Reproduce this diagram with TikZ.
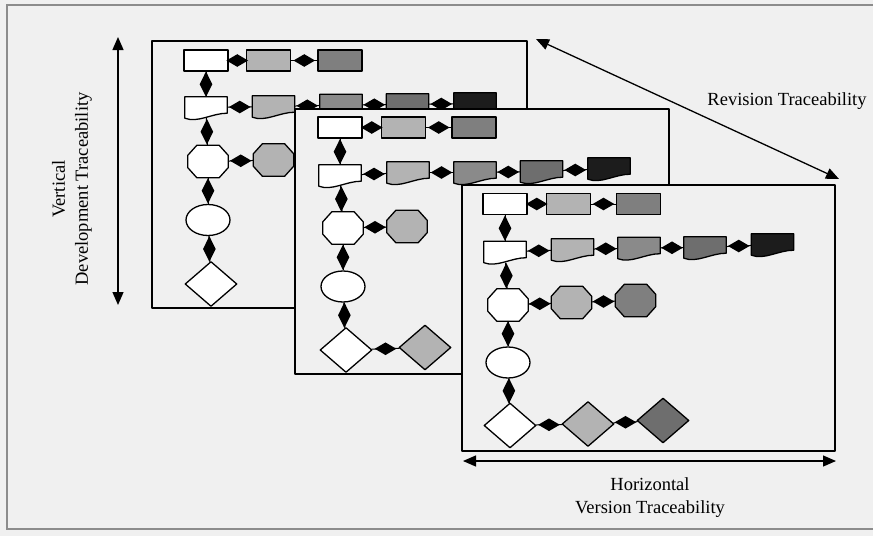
\documentclass[tikz,border=0pt]{standalone}
\usepackage{fontspec}
\setmainfont{Liberation Serif}
\usetikzlibrary{shapes.geometric,arrows.meta,calc}
\definecolor{bg}{HTML}{F0F0F0}
\definecolor{cA}{HTML}{B3B3B3}
\definecolor{cB}{HTML}{8A8A8A}
\definecolor{cC}{HTML}{6E6E6E}
\definecolor{cD}{HTML}{1C1C1C}
\definecolor{cR}{HTML}{7F7F7F}
\definecolor{frameline}{HTML}{8C8C8C}

% document symbol: rectangle with a wavy lower edge
% #1 name, #2 centre x, #3 top y, #4 fill colour
\newcommand\tracedoc[4]{%
  \node[docbox] (#1) at (#2,#3+10.5) {};
  \draw[lw, fill=#4] (#1.north west) -- (#1.north east)
    -- ($(#1.south east)+(0,-5)$)
    .. controls ($(#1.south)+(6,-5)$) and ($(#1.south)+(-8,5)$) .. (#1.south west)
    -- cycle;
}
% octagon symbol with cut corners
% #1 name, #2 centre x, #3 centre y, #4 fill colour
\newcommand\traceoct[4]{%
  \node[octbox] (#1) at (#2,#3) {};
  \draw[lw, fill=#4] ($(#1.north west)+(9,0)$) -- ($(#1.north east)+(-9,0)$)
    -- ($(#1.north east)+(0,10)$) -- ($(#1.south east)+(0,-10)$)
    -- ($(#1.south east)+(-9,0)$) -- ($(#1.south west)+(9,0)$)
    -- ($(#1.south west)+(0,-10)$) -- ($(#1.north west)+(0,10)$) -- cycle;
}

\begin{document}
\begin{tikzpicture}[x=1pt,y=-1pt,
  lw/.style={line width=1.3pt, draw=black, line join=round},
  panel/.style={lw, fill=bg},
  box/.style={rectangle, lw, inner sep=0pt, minimum width=44pt, minimum height=21pt},
  docbox/.style={rectangle, inner sep=0pt, minimum width=42pt, minimum height=21pt},
  octbox/.style={rectangle, inner sep=0pt, minimum width=40pt, minimum height=32pt},
  oval/.style={ellipse, lw, inner sep=0pt, minimum width=44pt, minimum height=31pt},
  rhomb/.style={diamond, lw, inner sep=0pt, minimum width=52pt, minimum height=45pt},
  link/.style={draw=black, line width=1pt},
  hd/.style={diamond, fill=black, inner sep=0pt, minimum width=22pt, minimum height=13pt},
  vd/.style={diamond, fill=black, inner sep=0pt, minimum width=13pt, minimum height=26pt},
  trace/.style={line width=1.3pt, {Triangle[length=13pt,width=11pt]}-{Triangle[length=13pt,width=11pt]}},
  caption/.style={font=\fontsize{18.5}{23}\selectfont, align=center, inner sep=0pt}
]
\fill[bg] (0,0) rectangle (873,536);
\useasboundingbox (0,0) rectangle (873,536);
\draw[frameline, line width=1.3pt] (7,5) rectangle (890,529);

% ---------- first panel ----------
\draw[panel] (152,41) rectangle (527,308);
\node[box, fill=white] (p1a1) at (206,60.5) {};
\node[box, fill=cA] (p1a2) at (268.5,60.5) {};
\node[box, fill=cR] (p1a3) at (340,60.5) {};
\tracedoc{p1b1}{206}{97}{white}
\tracedoc{p1b2}{273.5}{96}{cA}
\tracedoc{p1b3}{341}{94.5}{cB}
\tracedoc{p1b4}{407.5}{94}{cC}
\tracedoc{p1b5}{475}{93}{cD}
\traceoct{p1o1}{208}{161.5}{white}
\traceoct{p1o2}{273.5}{160}{cA}
\node[oval, fill=white] (p1e1) at (208,220) {};
\node[rhomb, fill=white] (p1k1) at (211,284) {};
\draw[link] (p1a1) -- node[hd]{} (p1a2);
\draw[link] (p1a2) -- node[hd]{} (p1a3);
\draw[link] (p1b1) -- node[hd]{} (p1b2);
\draw[link] (p1b2) -- node[hd]{} (p1b3);
\draw[link] (p1b3) -- node[hd]{} (p1b4);
\draw[link] (p1b4) -- node[hd]{} (p1b5);
\draw[link] (p1o1) -- node[hd]{} (p1o2);
\draw[link] (p1a1) -- node[vd]{} (p1b1);
\draw[link] (p1b1) -- node[vd]{} (p1o1);
\draw[link] (p1o1) -- node[vd]{} (p1e1);
\draw[link] (p1e1) -- node[vd]{} (p1k1);

% ---------- second panel ----------
\draw[panel] (295,109) rectangle (669,374);
\node[box, fill=white] (p2a1) at (340,127.5) {};
\node[box, fill=cA] (p2a2) at (403.5,127.5) {};
\node[box, fill=cR] (p2a3) at (474,127.5) {};
\tracedoc{p2b1}{340}{165}{white}
\tracedoc{p2b2}{408}{162}{cA}
\tracedoc{p2b3}{475}{162}{cB}
\tracedoc{p2b4}{541.5}{161}{cC}
\tracedoc{p2b5}{609}{158}{cD}
\traceoct{p2o1}{343}{228}{white}
\traceoct{p2o2}{407}{226.5}{cA}
\node[oval, fill=white] (p2e1) at (343,286.5) {};
\node[rhomb, fill=white] (p2k1) at (346,350) {};
\node[rhomb, fill=cA] (p2k2) at (425,347.5) {};
\draw[link] (p2a1) -- node[hd]{} (p2a2);
\draw[link] (p2a2) -- node[hd]{} (p2a3);
\draw[link] (p2b1) -- node[hd]{} (p2b2);
\draw[link] (p2b2) -- node[hd]{} (p2b3);
\draw[link] (p2b3) -- node[hd]{} (p2b4);
\draw[link] (p2b4) -- node[hd]{} (p2b5);
\draw[link] (p2o1) -- node[hd]{} (p2o2);
\draw[link] (p2k1) -- node[hd]{} (p2k2);
\draw[link] (p2a1) -- node[vd]{} (p2b1);
\draw[link] (p2b1) -- node[vd]{} (p2o1);
\draw[link] (p2o1) -- node[vd]{} (p2e1);
\draw[link] (p2e1) -- node[vd]{} (p2k1);

% ---------- third panel ----------
\draw[panel] (462,185) rectangle (835,451);
\node[box, fill=white] (p3a1) at (505,204) {};
\node[box, fill=cA] (p3a2) at (568.5,204) {};
\node[box, fill=cR] (p3a3) at (638.5,204) {};
\tracedoc{p3b1}{505}{241.5}{white}
\tracedoc{p3b2}{572.5}{239}{cA}
\tracedoc{p3b3}{639}{237.5}{cB}
\tracedoc{p3b4}{705}{237}{cC}
\tracedoc{p3b5}{772.5}{234}{cD}
\traceoct{p3o1}{508}{305}{white}
\traceoct{p3o2}{571.5}{302.5}{cA}
\traceoct{p3o3}{635.5}{300.5}{cR}
\node[oval, fill=white] (p3e1) at (508,362.5) {};
\node[rhomb, fill=white] (p3k1) at (510,425.5) {};
\node[rhomb, fill=cA] (p3k2) at (588,424) {};
\node[rhomb, fill=cC] (p3k3) at (663,420.5) {};
\draw[link] (p3a1) -- node[hd]{} (p3a2);
\draw[link] (p3a2) -- node[hd]{} (p3a3);
\draw[link] (p3b1) -- node[hd]{} (p3b2);
\draw[link] (p3b2) -- node[hd]{} (p3b3);
\draw[link] (p3b3) -- node[hd]{} (p3b4);
\draw[link] (p3b4) -- node[hd]{} (p3b5);
\draw[link] (p3o1) -- node[hd]{} (p3o2);
\draw[link] (p3o2) -- node[hd]{} (p3o3);
\draw[link] (p3k1) -- node[hd]{} (p3k2);
\draw[link] (p3k2) -- node[hd]{} (p3k3);
\draw[link] (p3a1) -- node[vd]{} (p3b1);
\draw[link] (p3b1) -- node[vd]{} (p3o1);
\draw[link] (p3o1) -- node[vd]{} (p3e1);
\draw[link] (p3e1) -- node[vd]{} (p3k1);

% ---------- traceability axes ----------
\coordinate (vtop) at (118,37);
\coordinate (vbot) at (118,305);
\coordinate (rtop) at (536,39);
\coordinate (rbot) at (839,179);
\coordinate (hleft) at (463,461);
\coordinate (hright) at (836,461);
\draw[trace] (vtop) -- (vbot);
\draw[trace] (rtop) -- (rbot);
\draw[trace] (hleft) -- (hright);

\node[caption, rotate=90] (vlab) at (72,189) {Vertical\\Development Traceability};
\node[caption] (rlab) at (787,101) {Revision Traceability};
\node[caption] (hlab) at (650,498) {Horizontal\\Version Traceability};
\end{tikzpicture}
\end{document}
